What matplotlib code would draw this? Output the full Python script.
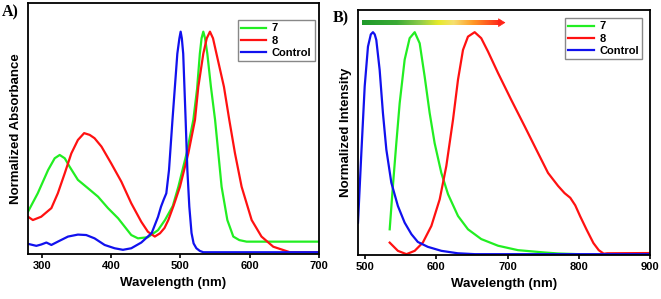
import numpy as np
import matplotlib
matplotlib.use("Agg")
import matplotlib.pyplot as plt
from matplotlib.colors import LinearSegmentedColormap

plt.rcParams['font.family'] = ['Liberation Sans', 'DejaVu Sans']
plt.rcParams['font.weight'] = 'bold'

# ---- panel A: absorbance ----
abs7_x = [280, 294, 309, 318.5, 325.7, 333, 340, 352, 366.6, 381, 395.4, 410, 419.5,
          429, 438.7, 453, 467.6, 477.7, 489, 497, 509, 518.6, 524, 528, 530.5, 533,
          535.5, 538.8, 544, 550, 559.4, 567.7, 576.3, 585, 595.5, 700]
abs7_y = [0.184, 0.267, 0.373, 0.426, 0.441, 0.426, 0.388, 0.328, 0.29, 0.252, 0.2,
          0.154, 0.116, 0.078, 0.063, 0.068, 0.1, 0.146, 0.21, 0.297, 0.449, 0.60, 0.74,
          0.90, 0.97, 1.0, 0.97, 0.90, 0.75, 0.60, 0.297, 0.146, 0.071, 0.055, 0.048,
          0.048]

abs8_x = [280, 287, 299, 313.7, 323, 333, 342.5, 352, 361, 369, 376, 386, 400, 414.7,
          429, 443.5, 453, 463, 470.5, 477, 482.5, 490, 499.3, 511.4, 521, 525.8, 533,
          538, 542.6, 547, 552, 562.8, 570.5, 578.7, 588.3, 602.8, 617, 634, 658, 700]
abs8_y = [0.161, 0.146, 0.161, 0.2, 0.267, 0.358, 0.448, 0.509, 0.54, 0.532, 0.517,
          0.479, 0.403, 0.32, 0.222, 0.138, 0.093, 0.071, 0.086, 0.11, 0.146, 0.21,
          0.297, 0.449, 0.60, 0.75, 0.90, 0.97, 1.0, 0.97, 0.90, 0.75, 0.60, 0.449,
          0.297, 0.146, 0.071, 0.025, 0.0, 0.0]

absC_x = [280, 292, 299, 306.5, 313.7, 323, 337.7, 352, 364, 376, 390.6, 405, 417, 429,
          443.5, 458.5, 467.6, 472, 476, 479.6, 483.5, 488.5, 495.5, 498.5, 500.3, 502,
          504, 507.5, 510, 512.8, 516, 519, 523, 528, 533, 700]
absC_y = [0.038, 0.029, 0.035, 0.044, 0.033, 0.048, 0.071, 0.08, 0.078, 0.063, 0.033,
          0.018, 0.011, 0.018, 0.044, 0.087, 0.16, 0.207, 0.24, 0.267, 0.373, 0.6, 0.9,
          0.97, 1.0, 0.97, 0.9, 0.6, 0.373, 0.207, 0.087, 0.04, 0.018, 0.006, 0.0, 0.0]

# ---- panel B: emission ----
em7_x = [534.5, 539, 543.8, 548.5, 555.5, 562.5, 569.6, 576.6, 583.6, 590.6, 597.6,
         607, 616.4, 630.4, 644.4, 663, 686.6, 714.6, 752, 771, 800]
em7_y = [0.112, 0.307, 0.5, 0.68, 0.876, 0.973, 1.0, 0.95, 0.8, 0.636, 0.5, 0.366,
         0.27, 0.172, 0.112, 0.068, 0.038, 0.018, 0.0075, 0.003, 0.0]

em8_x = [534.5, 546, 558, 569.6, 581, 593, 604.7, 614, 623.4, 630.4, 637.4, 644.4,
         653.8, 663, 672.5, 686.6, 705, 724, 742.7, 756.8, 771, 780, 788, 795, 802, 811,
         820.5, 828, 835, 840, 900]
em8_y = [0.052, 0.015, 0.0, 0.015, 0.052, 0.127, 0.247, 0.397, 0.606, 0.786, 0.92,
         0.98, 1.0, 0.973, 0.913, 0.816, 0.696, 0.576, 0.456, 0.366, 0.307, 0.275,
         0.254, 0.22, 0.17, 0.11, 0.05, 0.018, 0.002, 0.004, 0.005]

emC_x = [490, 494.7, 499.4, 504, 508, 511, 513.5, 515.7, 520.4, 525, 529.8, 536.8,
         546, 555.5, 565, 574, 588, 607, 630, 654, 900]
emC_y = [0.142, 0.456, 0.756, 0.935, 0.99, 1.0, 0.99, 0.965, 0.83, 0.636, 0.471, 0.322,
         0.217, 0.142, 0.09, 0.055, 0.033, 0.015, 0.004, 0.0, 0.0]

labels = ['7', '8', 'Control']
colors = ['#22ee22', '#ff1111', '#1111ee']

fig = plt.figure(figsize=(6.61, 2.99), dpi=100)
axA = fig.add_axes([0.0424, 0.1505, 0.4402, 0.8395])
axB = fig.add_axes([0.5416, 0.147, 0.4418, 0.8196])


def style(ax, xlim, xticks, ylim, ylabel):
    ax.set_xlim(*xlim)
    ax.set_ylim(*ylim)
    ax.set_xticks(xticks)
    ax.set_yticks([])
    ax.tick_params(axis='x', direction='out', length=3, width=1.2, labelsize=8, pad=2)
    for lab in ax.get_xticklabels():
        lab.set_fontweight('bold')
    for s in ax.spines.values():
        s.set_linewidth(1.3)
    ax.set_xlabel('Wavelength (nm)', fontsize=9.5, fontweight='bold', labelpad=4)
    ax.set_ylabel(ylabel, fontsize=9.5, fontweight='bold', labelpad=4)


def add_legend(ax, anchor):
    ax.legend(loc='upper right', bbox_to_anchor=anchor, borderaxespad=0,
              fancybox=False, edgecolor='#888888', framealpha=1,
              handlelength=2.3, handletextpad=0.5, labelspacing=0.2, borderpad=0.3,
              prop={'weight': 'bold', 'size': 8})


lw = 1.6
axA.plot(abs7_x, abs7_y, color=colors[0], lw=lw, label=labels[0])
axA.plot(abs8_x, abs8_y, color=colors[1], lw=lw, label=labels[1])
axA.plot(absC_x, absC_y, color=colors[2], lw=lw, label=labels[2])
style(axA, (280, 700), [300, 400, 500, 600, 700], (-0.008, 1.13), 'Normalized Absorbance')
add_legend(axA, (0.986, 0.932))

axB.plot(em7_x, em7_y, color=colors[0], lw=lw, label=labels[0])
axB.plot(em8_x, em8_y, color=colors[1], lw=lw, label=labels[1])
axB.plot(emC_x, emC_y, color=colors[2], lw=lw, label=labels[2])
style(axB, (490, 900), [500, 600, 700, 800, 900], (-0.004, 1.10), 'Normalized Intensity')
add_legend(axB, (0.973, 0.967))

# gradient arrow above the emission peaks (green -> yellow -> red)
arrow_start, arrow_end, arrow_y, half_h = 495, 690, 1.043, 0.011
cmap = LinearSegmentedColormap.from_list(
    'grad', [(0.0, '#1f9a2a'), (0.25, '#3aaa35'), (0.42, '#8fcc4a'), (0.55, '#e6ea2a'),
             (0.66, '#f6e070'), (0.8, '#ff9a26'), (1.0, '#ff2418')])
grad = np.linspace(0, 1, 256).reshape(1, -1)
axB.imshow(grad, cmap=cmap, aspect='auto', interpolation='bilinear',
           extent=(arrow_start, arrow_end, arrow_y - half_h, arrow_y + half_h), zorder=3)
axB.annotate('', xy=(arrow_end + 7, arrow_y), xytext=(arrow_end - 1, arrow_y),
             arrowprops=dict(arrowstyle='-|>,head_length=0.45,head_width=0.28',
                             color='#ff2418', lw=0.5, shrinkA=0, shrinkB=0))
axB.set_xlim(490, 900)
axB.set_ylim(-0.004, 1.10)

fig.text(0.003, 0.985, 'A)', fontsize=11.5, fontweight='bold', va='top', ha='left',
         family=['Liberation Serif', 'DejaVu Serif'])
fig.text(0.503, 0.965, 'B)', fontsize=11.5, fontweight='bold', va='top', ha='left',
         family=['Liberation Serif', 'DejaVu Serif'])

fig.savefig('out.png', dpi=100)
